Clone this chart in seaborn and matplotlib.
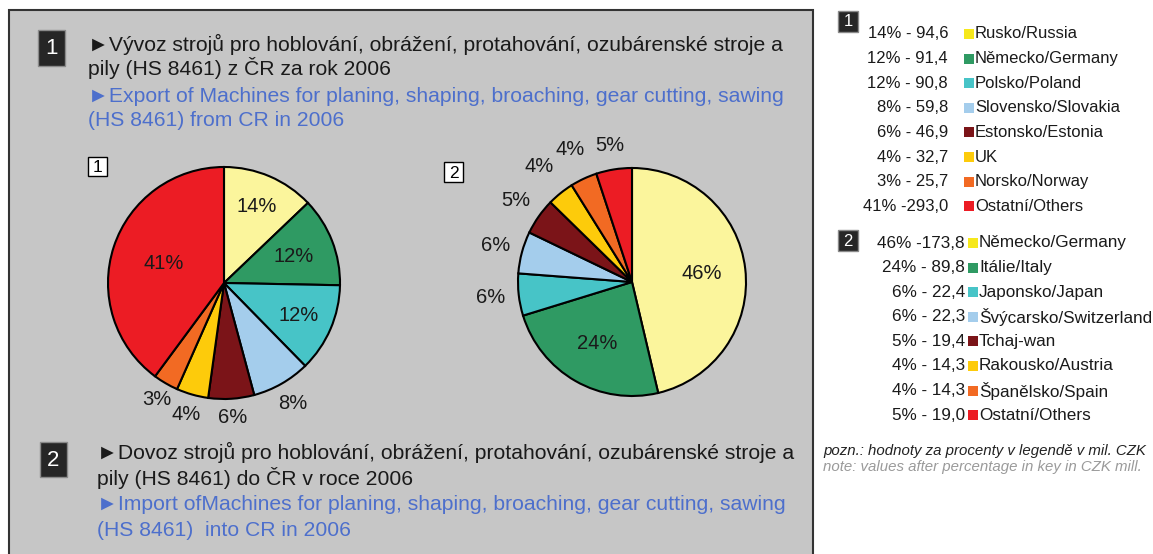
import matplotlib
matplotlib.use('Agg')
import matplotlib.pyplot as plt
import seaborn as sns
import numpy as np
from matplotlib.patches import Rectangle

# Export (1) data - legend values in mil. CZK
exp_pct = ['14%', '12%', '12%', '8%', '6%', '4%', '3%', '41%']
exp_val = [94.6, 91.4, 90.8, 59.8, 46.9, 32.7, 25.7, 293.0]
exp_val_txt = ['94,6', '91,4', '90,8', '59,8', '46,9', '32,7', '25,7', '293,0']
exp_names = ['Rusko/Russia', 'Německo/Germany', 'Polsko/Poland', 'Slovensko/Slovakia',
             'Estonsko/Estonia', 'UK', 'Norsko/Norway', 'Ostatní/Others']

# Import (2) data
imp_pct = ['46%', '24%', '6%', '6%', '5%', '4%', '4%', '5%']
imp_val = [173.8, 89.8, 22.4, 22.3, 19.4, 14.3, 14.3, 19.0]
imp_val_txt = ['173,8', '89,8', '22,4', '22,3', '19,4', '14,3', '14,3', '19,0']
imp_names = ['Německo/Germany', 'Itálie/Italy', 'Japonsko/Japan', 'Švýcarsko/Switzerland',
             'Tchaj-wan', 'Rakousko/Austria', 'Španělsko/Spain', 'Ostatní/Others']

pie_colors = ['#fbf59c', '#2f9a63', '#47c4c7', '#a4cdec', '#7b1418', '#fdcb0b', '#f26a23', '#ec1c24']
key_colors = ['#f6e81c', '#2f9a63', '#47c4c7', '#a4cdec', '#7b1418', '#fdcb0b', '#f26a23', '#ec1c24']

sns.set_style("white")
plt.rcParams['font.family'] = ['Liberation Sans', 'DejaVu Sans']

W, H = 1153, 554
fig = plt.figure(figsize=(W / 100, H / 100), dpi=100)

# overlay axes in pixel coordinates
bg = fig.add_axes([0, 0, 1, 1])
bg.set_xlim(0, W)
bg.set_ylim(H, 0)
bg.axis('off')

GRAY = '#c6c6c6'
BLUE = '#4d6fcc'
TXT = '#1a1a1a'

bg.add_patch(Rectangle((9, 10), 804, 560, facecolor=GRAY, edgecolor='#333333', lw=1.5))


def badge(x, y, w, h, s, fs):
    bg.add_patch(Rectangle((x, y), w, h, facecolor='#262626', edgecolor='#8a8a8a', lw=1))
    bg.text(x + w / 2, y + h / 2 + 1, s, color='white', fontsize=fs, ha='center', va='center')


def box(x, y, w, h, s):
    bg.add_patch(Rectangle((x, y), w, h, facecolor='white', edgecolor='black', lw=1))
    bg.text(x + w / 2, y + h / 2 + 1, s, color='black', fontsize=12.5, ha='center', va='center')


# headers
fs_head = 15.2
badge(38, 30, 27, 36, '1', 16)
bg.text(88, 44, '►Vývoz strojů pro hoblování, obrážení, protahování, ozubárenské stroje a',
        fontsize=fs_head, color=TXT, va='center')
bg.text(88, 68, 'pily (HS 8461) z ČR za rok 2006', fontsize=fs_head, color=TXT, va='center')
bg.text(88, 96, '►Export of Machines for planing, shaping, broaching, gear cutting, sawing',
        fontsize=fs_head, color=BLUE, va='center')
bg.text(88, 121, '(HS 8461) from CR in 2006', fontsize=fs_head, color=BLUE, va='center')

badge(40, 442, 27, 35, '2', 16)
bg.text(97, 452, '►Dovoz strojů pro hoblování, obrážení, protahování, ozubárenské stroje a',
        fontsize=fs_head, color=TXT, va='center')
bg.text(97, 478, 'pily (HS 8461) do ČR v roce 2006', fontsize=fs_head, color=TXT, va='center')
bg.text(97, 505, '►Import ofMachines for planing, shaping, broaching, gear cutting, sawing',
        fontsize=fs_head, color=BLUE, va='center')
bg.text(97, 531, '(HS 8461)  into CR in 2006', fontsize=fs_head, color=BLUE, va='center')

box(88, 157, 19, 19, '1')
box(444, 162, 19, 20, '2')


def draw_pie(cx, cy, r, vals, labels, dists):
    half = 1.5 * r
    ax = fig.add_axes([(cx - half) / W, (H - cy - half) / H, 2 * half / W, 2 * half / H])
    wedges, _ = ax.pie(vals, colors=pie_colors, startangle=90, counterclock=False,
                       wedgeprops=dict(edgecolor='black', linewidth=1.5))
    ax.set_xlim(-1.5, 1.5)
    ax.set_ylim(-1.5, 1.5)
    ax.axis('off')
    for w, lab, d in zip(wedges, labels, dists):
        ang = np.deg2rad((w.theta1 + w.theta2) / 2)
        ax.text(d * np.cos(ang), d * np.sin(ang), lab, fontsize=14.5, color=TXT,
                ha='center', va='center')


draw_pie(224, 283, 116, exp_val, exp_pct, [0.72, 0.64, 0.7, 1.2, 1.16, 1.18, 1.16, 0.55])
draw_pie(632, 282, 114, imp_val, imp_pct, [0.62, 0.62, 1.25, 1.24, 1.25, 1.3, 1.28, 1.21])


# key on the right
def key(y0, pcts, vals, names, xr, xs, badge_y, label, fs):
    bg.add_patch(Rectangle((838, badge_y), 20, 21, facecolor='#262626', edgecolor='#8a8a8a', lw=1))
    bg.text(848, badge_y + 11, label, color='white', fontsize=12, ha='center', va='center')
    for i, (p, v, n) in enumerate(zip(pcts, vals, names)):
        y = y0 + i * 24.6
        sep = ' -' if len(v) > 4 else ' - '
        bg.text(xr, y, p + sep + v, fontsize=fs, color=TXT, ha='right', va='center')
        bg.add_patch(Rectangle((xs, y - 5), 10, 10, facecolor=key_colors[i], lw=0))
        bg.text(xs + 11, y, n, fontsize=fs, color=TXT, ha='left', va='center')


key(34, exp_pct, exp_val_txt, exp_names, 948, 964, 11, '1', 12)
key(243, imp_pct, imp_val_txt, imp_names, 965, 968, 230, '2', 12.3)

bg.text(823, 451, 'pozn.: hodnoty za procenty v legendě v mil. CZK', fontsize=10.8,
        style='italic', color='#222222', va='center')
bg.text(823, 467, 'note: values after percentage in key in CZK mill.', fontsize=10.8,
        style='italic', color='#9a9a9a', va='center')

fig.savefig('out.png', dpi=100)
